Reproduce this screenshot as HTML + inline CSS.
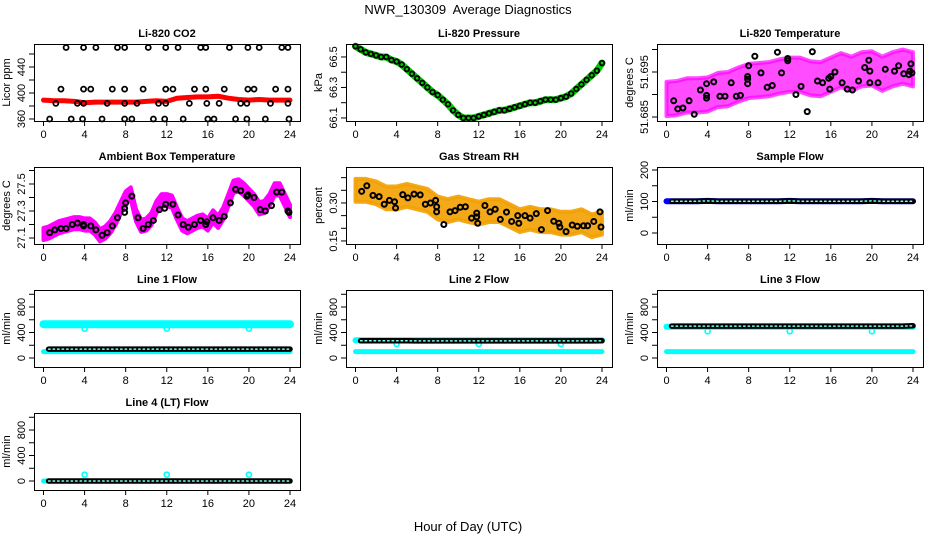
<!DOCTYPE html>
<html><head><meta charset="utf-8"><style>
html,body{margin:0;padding:0;background:#fff;}
svg{display:block;font-family:"Liberation Sans",sans-serif;}
</style></head><body>
<svg id="chart" width="936" height="540" viewBox="0 0 936 540">
<text x="468" y="14" text-anchor="middle" font-size="13">NWR_130309&#160; Average Diagnostics</text>
<text x="468" y="531" text-anchor="middle" font-size="13">Hour of Day (UTC)</text>
</svg>
<script>
// ---- data ----
const hourTicks = [0,4,8,12,16,20,24];
const hours25 = [0,1,2,3,4,5,6,7,8,9,10,11,12,13,14,15,16,17,18,19,20,21,22,23,24];
const chainT = [0.5,1,2,3,4,5,6,7,8,9,10,11,12,13,14,15,16,17,18,19,20,21,22,23,24];
const half49 = [0,0.5,1,1.5,2,2.5,3,3.5,4,4.5,5,5.5,6,6.5,7,7.5,8,8.5,9,9.5,10,10.5,11,11.5,12,12.5,13,13.5,14,14.5,15,15.5,16,16.5,17,17.5,18,18.5,19,19.5,20,20.5,21,21.5,22,22.5,23,23.5,24];

const co2Red = [389,388,388,387,385,386,386,386,386,386,387,388,387,392,393,394,394,395,392,390,389,390,389,389,389];
const co2OutT470 = [2.2,3.9,5.1,7.2,7.9,10.2,11.9,13.1,15.3,15.8,18.1,19.9,21.0,23.2,23.8];
const co2OutT406 = [1.7,3.9,4.6,6.7,7.9,9.7,11.9,12.6,14.7,15.8,17.6,19.9,20.5,22.6,23.8];
const co2OutT384 = [1.2,3.3,3.9,6.2,7.9,9.1,11.2,11.9,14.2,15.9,17.1,19.2,19.8,22.1,23.8];
const co2OutT360 = [0.6,2.7,3.8,5.7,7.9,8.6,10.7,11.8,13.6,16.0,16.6,18.7,19.8,21.6,23.9];

const pressure = [66.57,66.55,66.53,66.52,66.51,66.50,66.50,66.48,66.47,66.45,66.42,66.39,66.36,66.33,66.30,66.27,66.25,66.22,66.19,66.15,66.12,66.10,66.10,66.10,66.11,66.12,66.13,66.14,66.15,66.15,66.16,66.17,66.18,66.19,66.20,66.20,66.21,66.22,66.22,66.22,66.23,66.24,66.26,66.29,66.32,66.35,66.38,66.41,66.46];

const liTempCenter = [51.6890,51.6892,51.6898,51.6898,51.6900,51.6910,51.6912,51.6922,51.6930,51.6932,51.6934,51.6940,51.6944,51.6944,51.6936,51.6934,51.6944,51.6954,51.6946,51.6956,51.6958,51.6946,51.6956,51.6962,51.6956];
const liTempT = [0.7,1.1,1.6,2.2,2.7,3.3,3.9,3.9,3.9,4.6,5.2,5.7,6.3,6.8,7.2,7.9,7.9,7.9,8.0,8.6,9.2,9.8,10.3,10.8,11.2,11.8,11.8,12.6,13.1,13.7,14.2,14.7,15.2,15.8,15.9,16.0,16.4,17.1,17.6,18.1,18.7,19.3,19.7,19.8,19.8,20.6,21.3,22.2,22.6,23.1,23.6,23.7,23.8,23.9];
const liTempV = [51.6886,51.6868,51.6870,51.6886,51.6856,51.6910,51.6892,51.6898,51.6924,51.6928,51.6896,51.6896,51.6926,51.6896,51.6898,51.6924,51.6934,51.6940,51.6964,51.6985,51.6948,51.6916,51.6920,51.6994,51.6948,51.6975,51.6980,51.6900,51.6918,51.6862,51.6995,51.6930,51.6926,51.6936,51.6912,51.6940,51.6950,51.6926,51.6912,51.6910,51.6930,51.6960,51.6976,51.6952,51.6926,51.6926,51.6956,51.6952,51.6964,51.6946,51.6944,51.6952,51.6968,51.6948];

const ambCenter = [27.13,27.14,27.16,27.18,27.19,27.20,27.21,27.21,27.20,27.20,27.17,27.12,27.14,27.18,27.24,27.32,27.40,27.43,27.27,27.19,27.20,27.24,27.33,27.38,27.38,27.37,27.28,27.20,27.18,27.20,27.22,27.23,27.20,27.26,27.22,27.28,27.38,27.48,27.49,27.46,27.42,27.38,27.32,27.33,27.38,27.46,27.46,27.38,27.30];
const ambT = [0.6,1.1,1.7,2.2,2.8,3.3,3.9,3.9,4.6,5.1,5.7,6.2,6.7,7.2,7.9,7.9,8.0,8.6,9.2,9.7,10.2,10.7,11.3,11.8,11.9,12.6,13.1,13.6,14.1,14.7,15.3,15.8,15.9,16.5,17.1,17.6,18.2,18.7,19.2,19.8,19.9,20.5,21.1,21.6,22.2,22.7,23.2,23.8,23.9];
const ambV = [27.14,27.16,27.17,27.17,27.20,27.21,27.19,27.20,27.19,27.16,27.12,27.14,27.19,27.25,27.29,27.32,27.36,27.41,27.25,27.17,27.20,27.23,27.31,27.32,27.35,27.35,27.27,27.20,27.18,27.20,27.23,27.20,27.22,27.25,27.23,27.26,27.36,27.46,27.45,27.41,27.42,27.40,27.31,27.30,27.34,27.44,27.44,27.30,27.29];

const rhCenter = [0.35,0.35,0.34,0.32,0.32,0.33,0.32,0.31,0.28,0.27,0.28,0.27,0.26,0.27,0.27,0.25,0.23,0.24,0.23,0.23,0.22,0.22,0.23,0.21,0.22];
const rhT = [0.6,1.1,1.7,2.3,2.8,3.3,3.8,3.9,4.6,5.1,5.7,6.3,6.8,7.3,7.8,7.9,7.9,8.6,9.2,9.7,10.2,10.7,11.3,11.8,11.8,11.9,12.6,13.1,13.6,14.1,14.7,15.2,15.8,15.9,16.5,17.0,17.6,18.1,18.7,19.3,19.8,19.9,20.5,21.1,21.6,22.2,22.6,23.2,23.8,23.9];
const rhV = [0.346,0.368,0.33,0.325,0.295,0.31,0.305,0.28,0.333,0.32,0.335,0.332,0.295,0.30,0.31,0.285,0.265,0.215,0.265,0.27,0.283,0.285,0.24,0.26,0.245,0.22,0.29,0.265,0.275,0.235,0.264,0.227,0.25,0.22,0.25,0.24,0.258,0.195,0.27,0.228,0.22,0.205,0.187,0.213,0.208,0.21,0.21,0.227,0.265,0.205];

const sampleFlow = [101,101,101,101,102,101,101,101,101,101,101,101,102,101,101,101,101,101,101,101,102,101,101,101,101];
const line1High = [530,530,530,530,530,530,530,530,530,530,530,530,530,530,530,530,530,530,530,530,530,530,530,530,530];
const line1Low = [100,100,100,100,100,100,100,100,100,100,100,100,100,100,100,100,100,100,100,100,100,100,100,100,100];
const line1Black = [140,140,140,140,140,140,140,140,140,140,140,140,140,140,140,140,140,140,140,140,140,140,140,140,140];
const line2High = [280,280,280,280,280,280,280,280,280,280,280,280,280,280,280,280,280,280,280,280,280,280,280,280,280];
const line2Low = [100,100,100,100,100,100,100,100,100,100,100,100,100,100,100,100,100,100,100,100,100,100,100,100,100];
const line2Black = [270,270,270,270,270,270,268,268,268,268,268,268,268,268,268,268,268,268,268,268,268,268,268,268,270];
const line3High = [490,490,490,490,490,490,490,490,490,490,490,490,490,490,490,490,490,490,490,490,490,490,490,490,490];
const line3Low = [100,100,100,100,100,100,100,100,100,100,100,100,100,100,100,100,100,100,100,100,100,100,100,100,100];
const line3Black = [500,500,500,500,500,500,500,500,500,500,500,500,500,500,500,500,500,500,500,500,500,500,500,500,505];
const line4Cyan = [0,0,0,0,0,0,0,0,0,0,0,0,0,0,0,0,0,0,0,0,0,0,0,0,0];
const line4Black = [0,0,0,0,0,0,0,0,0,0,0,0,0,0,0,0,0,0,0,0,0,0,0,0,0];
const dipT = [4,12,20];
const line1Dip = [460,460,460];
const line2Dip = [220,220,220];
const line3Dip = [420,420,420];
const line4Spike = [100,100,100];

// ---- drawing ----
const NS = "http://www.w3.org/2000/svg";
const svg = document.getElementById('chart');
function mk(tag, attrs, parent){
  const e = document.createElementNS(NS, tag);
  for (const k in attrs) e.setAttribute(k, attrs[k]);
  parent.appendChild(e);
  return e;
}
const rowTop = [44,167,290,413];
const colLeft = [34,346,657];
const PW = 266, PH = 77;

function panel(name, title, ylabel, row, col, lo, hi, ticks, labels){
  const L = colLeft[col], T = rowTop[row];
  const g = mk('g', {}, svg);
  
  
  const sx = t => L + 9.5 + t / 24 * 246.5;
  const sy = v => T + PH - (v - lo) / (hi - lo) * PH;
  const tt = mk('text', {x: L + PW/2, y: T - 7, 'text-anchor':'middle', 'font-size':11, 'font-weight':'bold'}, g);
  tt.textContent = title;
  
  
  const plot = mk('g', {}, g);
  
  
  const ax = mk('g', {stroke:'#000', 'stroke-width':1}, g);
  
  
  mk('rect', {x: L + 0.5, y: T + 0.5, width: PW, height: PH, fill:'none'}, ax);
  mk('line', {x1: sx(0), x2: sx(24), y1: T + PH + 0.5, y2: T + PH + 0.5}, ax);
  hourTicks.forEach(h => {
    mk('line', {x1: sx(h), x2: sx(h), y1: T + PH, y2: T + PH + 5}, ax);
    const lt = mk('text', {x: sx(h), y: T + PH + 17, 'text-anchor':'middle', 'font-size':11, stroke:'none'}, g);
    lt.textContent = h;
    
    
  });
  ticks.forEach(v => {
    mk('line', {x1: L - 5, x2: L, y1: sy(v), y2: sy(v)}, ax);
  });
  labels.forEach(lbl => {
    const yy = sy(parseFloat(lbl));
    const lt = mk('text', {x: L - 9, y: yy, 'text-anchor':'middle', 'font-size':11, transform:`rotate(-90 ${L-9} ${yy})`}, g);
    lt.textContent = lbl;
    
    
  });
  const yl = mk('text', {x: L - 24, y: T + PH/2, 'text-anchor':'middle', 'font-size':11, transform:`rotate(-90 ${L-24} ${T+PH/2})`}, g);
  yl.textContent = ylabel;
  
  
  return {g: plot, sx, sy};
}
function circles(p, ts, vs, color, r, sw, nm){
  ts.forEach((t,i) => {
    const c = mk('circle', {cx: p.sx(t), cy: p.sy(vs[i]), r: r, fill:'none', stroke: color, 'stroke-width': sw}, p.g);
    
    
  });
}
function line(p, ts, vs, color, w, nm, dash){
  const d = ts.map((t,i) => (i ? 'L' : 'M') + p.sx(t).toFixed(1) + ',' + p.sy(vs[i]).toFixed(1)).join('');
  const a = {d: d, fill:'none', stroke: color, 'stroke-width': w, 'stroke-linejoin':'round', 'stroke-linecap':'round'};
  if (dash) a['stroke-dasharray'] = dash;
  const e = mk('path', a, p.g);
  
  
  return e;
}
function band(p, ts, vs, spread, color, op, nm){
  const up = ts.map((t,i) => p.sx(t).toFixed(1) + ',' + p.sy(vs[i] + spread).toFixed(1));
  const dn = ts.map((t,i) => p.sx(t).toFixed(1) + ',' + p.sy(vs[i] - spread).toFixed(1)).reverse();
  const e = mk('polygon', {points: up.concat(dn).join(' '), fill: color, 'fill-opacity': op, stroke: color, 'stroke-width': 4, 'stroke-opacity': op, 'stroke-linejoin':'round'}, p.g);
  
  
}
function chain(p, ts, vs, nm){
  line(p, ts, vs, '#000', 5.5, nm);
  line(p, ts, vs, '#7fe', 1.5, nm + '-holes', '1.5 3');
}

// CO2
let p = panel('co2', 'Li-820 CO2', 'Licor ppm', 0, 0, 356.9, 475.4, [360,380,400,420,440,460], ['360','400','440']);
line(p, hours25, co2Red, '#f00', 5, 'co2-red-series');
circles(p, co2OutT470, co2OutT470.map(()=>470), '#000', 2.5, 1.8, 'co2-outlier');
circles(p, co2OutT406, co2OutT406.map(()=>406), '#000', 2.5, 1.8, 'co2-outlier');
circles(p, co2OutT384, co2OutT384.map(()=>384), '#000', 2.5, 1.8, 'co2-outlier');
circles(p, co2OutT360, co2OutT360.map(()=>360), '#000', 2.5, 1.8, 'co2-outlier');

// Pressure
p = panel('pressure', 'Li-820 Pressure', 'kPa', 0, 1, 66.08, 66.585, [66.1,66.2,66.3,66.4,66.5], ['66.1','66.3','66.5']);
line(p, half49, pressure, '#0c0', 7, 'pressure-green-series');
circles(p, half49, pressure, '#000', 2.3, 1.8, 'pressure-point');

// Li temp
p = panel('li-temp', 'Li-820 Temperature', 'degrees C', 0, 2, 51.68411, 51.70122, [51.685,51.690,51.695,51.700], ['51.685','51.695']);
band(p, hours25, liTempCenter, 0.0038, '#f0f', 0.7, 'li-temp-magenta-cloud');
circles(p, liTempT, liTempV, '#000', 2.5, 2, 'li-temp-point');

// Ambient
p = panel('ambient', 'Ambient Box Temperature', 'degrees C', 1, 0, 27.0556, 27.626, [27.1,27.2,27.3,27.4,27.5,27.6], ['27.1','27.3','27.5']);
band(p, half49, ambCenter, 0.045, '#f0f', 1, 'ambient-magenta-cloud');
circles(p, ambT, ambV, '#000', 2.5, 2, 'ambient-point');

// RH
p = panel('rh', 'Gas Stream RH', 'percent', 1, 1, 0.138, 0.442, [0.15,0.20,0.25,0.30,0.35,0.40], ['0.15','0.30']);
band(p, hours25, rhCenter, 0.045, '#f2a000', 0.9, 'rh-cloud');
circles(p, rhT, rhV, '#000', 2.5, 2, 'rh-point');

// Sample flow
p = panel('sample-flow', 'Sample Flow', 'ml/min', 1, 2, -34.9, 209.5, [0,50,100,150,200], ['0','100','200']);
line(p, hours25, sampleFlow, '#00f', 6, 'sample-flow-blue');
chain(p, chainT, sampleFlow, 'sample-flow-black');

// Line flows
const fT = [0,200,400,600,800,1000], fL = ['0','400','800'];
p = panel('line1', 'Line 1 Flow', 'ml/min', 2, 0, -141, 1067, fT, fL);
line(p, hours25, line1High, '#0ff', 8, 'line1-cyan-high');
line(p, hours25, line1Low, '#0ff', 5, 'line1-cyan-low');
circles(p, dipT, line1Dip, '#0ff', 2.5, 1.6, 'line1-dip');
chain(p, chainT, line1Black, 'line1-black');

p = panel('line2', 'Line 2 Flow', 'ml/min', 2, 1, -141, 1067, fT, fL);
line(p, hours25, line2High, '#0ff', 6, 'line2-cyan-high');
line(p, hours25, line2Low, '#0ff', 5, 'line2-cyan-low');
circles(p, dipT, line2Dip, '#0ff', 2.5, 1.6, 'line2-dip');
chain(p, chainT, line2Black, 'line2-black');

p = panel('line3', 'Line 3 Flow', 'ml/min', 2, 2, -141, 1067, fT, fL);
line(p, hours25, line3High, '#0ff', 6, 'line3-cyan-high');
line(p, hours25, line3Low, '#0ff', 5, 'line3-cyan-low');
circles(p, dipT, line3Dip, '#0ff', 2.5, 1.6, 'line3-dip');
chain(p, chainT, line3Black, 'line3-black');

p = panel('line4', 'Line 4 (LT) Flow', 'ml/min', 3, 0, -141, 1067, fT, fL);
line(p, hours25, line4Cyan, '#0ff', 5, 'line4-cyan');
circles(p, dipT, line4Spike, '#0ff', 2.5, 1.6, 'line4-spike');
chain(p, chainT, line4Black, 'line4-black');
</script>
</body></html>
